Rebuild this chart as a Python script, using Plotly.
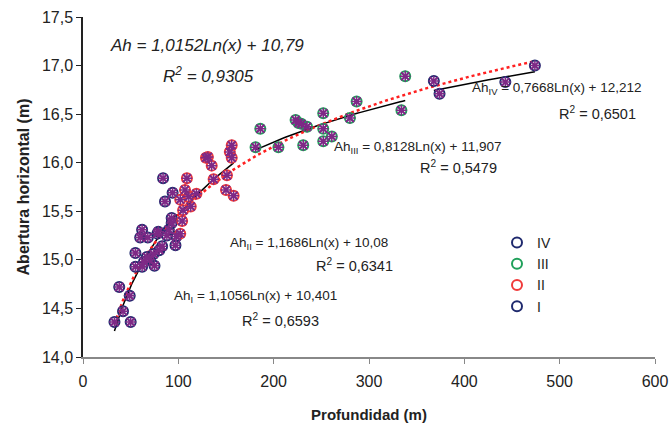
import numpy as np
import plotly.graph_objects as go

# ---------------- data ----------------
depth_I = [33, 50, 42, 38, 49, 55, 62, 55, 75, 70, 62, 60, 68, 78, 83, 74, 67, 88, 84, 86, 94, 93, 90, 79, 97, 98, 93, 64, 80]
aber_I = [14.36, 14.36, 14.47, 14.72, 14.63, 14.93, 14.93, 15.07, 14.94, 15.00, 15.31, 15.23, 15.23, 15.27, 15.14, 15.06, 15.03, 15.25, 15.84, 15.60, 15.69, 15.38, 15.31, 15.29, 15.15, 15.24, 15.43, 14.98, 15.10]

depth_II = [102, 107, 109, 111, 119, 105, 102, 104, 131, 135, 137, 129, 151, 154, 156, 156, 150, 158, 113]
aber_II = [15.62, 15.72, 15.84, 15.65, 15.68, 15.51, 15.27, 15.40, 16.06, 15.97, 15.83, 16.05, 15.87, 16.11, 16.18, 16.05, 15.72, 15.66, 15.55]

depth_III = [181, 186, 205, 223, 226, 231, 235, 229, 252, 252, 261, 252, 280, 287, 334, 338]
aber_III = [16.16, 16.35, 16.16, 16.44, 16.41, 16.18, 16.37, 16.40, 16.51, 16.35, 16.27, 16.22, 16.46, 16.63, 16.54, 16.89]

depth_IV = [368, 374, 443, 474]
aber_IV = [16.84, 16.71, 16.83, 17.00]

# trendline coefficients (a*Ln(x) + b) as printed on the chart
fit_names = ["I", "II", "III", "IV"]
fit_a = [1.1056, 1.1686, 0.8128, 0.7668]
fit_b = [10.401, 10.08, 11.907, 12.212]
all_a, all_b = 1.0152, 10.79

x_ticks = [0, 100, 200, 300, 400, 500, 600]
y_ticks = [14.0, 14.5, 15.0, 15.5, 16.0, 16.5, 17.0, 17.5]

groups = {
    "I": (depth_I, aber_I, "#1F2A6E"),
    "II": (depth_II, aber_II, "#F03A3A"),
    "III": (depth_III, aber_III, "#1FA05A"),
    "IV": (depth_IV, aber_IV, "#1F2A6E"),
}

FONT = "Liberation Sans, Arial, sans-serif"
PURPLE = "#7E2A86"
fig = go.Figure()

# piecewise black trend lines
for name, a, b in zip(fit_names, fit_a, fit_b):
    xs = groups[name][0]
    xx = np.linspace(min(xs), max(xs), 60)
    fig.add_trace(go.Scatter(x=xx, y=a * np.log(xx) + b, mode="lines",
                             line=dict(color="black", width=1.5),
                             showlegend=False, hoverinfo="skip"))

# overall red dotted trend line
all_x = depth_I + depth_II + depth_III + depth_IV
all_y = aber_I + aber_II + aber_III + aber_IV
xx = np.linspace(min(all_x), max(all_x), 200)
fig.add_trace(go.Scatter(x=xx, y=all_a * np.log(xx) + all_b, mode="lines",
                         line=dict(color="#FF2020", width=2.5, dash="dot"),
                         showlegend=False, hoverinfo="skip"))

# circle markers per group
for name in fit_names:
    xs, ys, col = groups[name]
    fig.add_trace(go.Scatter(x=xs, y=ys, mode="markers", name=name,
                             marker=dict(symbol="circle-open", size=10, color=col,
                                         line=dict(width=2, color=col))))

# purple star / x overlay
fig.add_trace(go.Scatter(x=all_x, y=all_y, mode="markers", showlegend=False,
                         marker=dict(symbol="asterisk-open", size=9, color=PURPLE,
                                     line=dict(width=1.5, color=PURPLE))))
fig.add_trace(go.Scatter(x=all_x, y=all_y, mode="markers", showlegend=False,
                         marker=dict(symbol="x-thin-open", size=8, color=PURPLE,
                                     line=dict(width=2, color=PURPLE))))

W, H = 670, 431
L, R, T, B = 83, 655, 17, 357          # plot area in page pixels
def px(x):
    return (x - L) / (R - L)
def py(y):
    return (B - y) / (B - T)

ann = []
def add(text, x, y, size=14, italic=False, xanchor="left"):
    if italic:
        text = "<i>" + text + "</i>"
    ann.append(dict(text=text, x=px(x), y=py(y), xref="paper", yref="paper",
                    showarrow=False, xanchor=xanchor, yanchor="middle",
                    font=dict(family=FONT, size=size, color="#222")))

add("Ah = 1,0152Ln(x) + 10,79", 207, 45, size=17, italic=True, xanchor="center")
add("R<sup>2</sup> = 0,9305", 208, 75, size=17, italic=True, xanchor="center")
add("Ah<sub>IV</sub> = 0,7668Ln(x) + 12,212", 470, 88, size=13.5)
add("R<sup>2</sup> = 0,6501", 557, 113, size=14.5)
add("Ah<sub>III</sub> = 0,8128Ln(x) + 11,907", 332, 147, size=13.5)
add("R<sup>2</sup> = 0,5479", 418, 167, size=14.5)
add("Ah<sub>II</sub> = 1,1686Ln(x) + 10,08", 228, 243, size=13.5)
add("R<sup>2</sup> = 0,6341", 314, 265, size=14.5)
add("Ah<sub>I</sub> = 1,1056Ln(x) + 10,401", 172, 296, size=13.5)
add("R<sup>2</sup> = 0,6593", 240, 320, size=14.5)

fig.update_layout(
    width=W, height=H,
    margin=dict(l=L, r=W - R, t=T, b=H - B),
    paper_bgcolor="white", plot_bgcolor="white",
    separators=",.",
    font=dict(family=FONT, size=16, color="#222"),
    annotations=ann,
    showlegend=True,
    legend=dict(x=px(497), y=py(227), xanchor="left", yanchor="top",
                traceorder="reversed", bgcolor="rgba(0,0,0,0)",
                font=dict(family=FONT, size=14, color="#222"),
                itemwidth=30),
    xaxis=dict(range=[0, 600], tickvals=x_ticks, showgrid=False, zeroline=False,
               showline=True, linecolor="#888", linewidth=1.5,
               ticks="outside", ticklen=5, tickcolor="#888",
               ticklabelstandoff=4, automargin=False,
               tickfont=dict(size=16, color="#222"),
               title=dict(text="<b>Profundidad (m)</b>", font=dict(size=15), standoff=21)),
    yaxis=dict(range=[14.0, 17.5], tickvals=y_ticks, tickformat=".1f",
               showgrid=False, zeroline=False, automargin=False,
               showline=True, linecolor="#222", linewidth=1.5,
               ticks="outside", ticklen=5, tickcolor="#222",
               tickfont=dict(size=16, color="#222"),
               title=dict(text="<b>Abertura horizontal (m)</b>", font=dict(size=16), standoff=8)),
)

fig.write_html("out.html",
               config={"displayModeBar": False},
               post_script="document.body.style.margin='0';document.body.style.overflow='hidden';")
